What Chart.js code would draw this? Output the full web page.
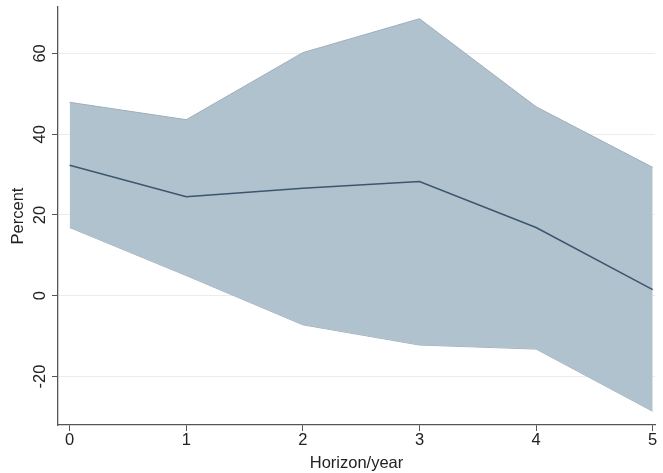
<!DOCTYPE html>
<html>
<head>
<meta charset="utf-8">
<script src="https://cdn.jsdelivr.net/npm/chart.js@4"></script>
<style>
  html, body { margin: 0; padding: 0; background: #fff; }
  #wrap { width: 663px; height: 473px; }
</style>
</head>
<body>
<div id="wrap"><canvas id="myChart1"></canvas></div>
<script>
// horizon (years) and estimates
const horizons = [0, 1, 2, 3, 4, 5];
const estimate = [32.3, 24.5, 26.6, 28.3, 16.9, 1.5];
const upperCI = [47.9, 43.6, 60.2, 68.6, 46.8, 31.8];
const lowerCI = [16.9, 5.0, -7.2, -12.2, -13.2, -28.6];
const yTickValues = [-20, 0, 20, 40, 60];
const xTickValues = [0, 1, 2, 3, 4, 5];

function pts(arr) {
    return horizons.map((h, i) => ({ x: h, y: arr[i] }));
}

const font = { family: "'Liberation Sans', Arial, sans-serif", size: 16.5 };

// Stata style: y tick labels and title run bottom-to-top, centred on the tick
const verticalYLabels = {
    id: 'verticalYLabels',
    afterDraw(chart) {
        const c = chart.ctx;
        const y = chart.scales.y;
        c.save();
        c.fillStyle = '#222';
        c.font = font.size + "px " + font.family;
        c.textAlign = 'center';
        c.textBaseline = 'middle';
        yTickValues.forEach(v => {
            c.save();
            c.translate(40, y.getPixelForValue(v));
            c.rotate(-Math.PI / 2);
            c.fillText(String(v), 0, 0);
            c.restore();
        });
        c.translate(18, (y.top + y.bottom) / 2);
        c.rotate(-Math.PI / 2);
        c.fillText('Percent', 0, 0);
        c.restore();
    }
};

document.addEventListener("DOMContentLoaded", function() {
    const ctx = document.getElementById('myChart1').getContext('2d');

    const data = {
        datasets: [
            {
                label: 'Estimate',
                data: pts(estimate),
                borderColor: '#3b566e',
                borderWidth: 1.5,
                pointRadius: 0,
                fill: false
            },
            {
                label: 'Upper',
                data: pts(upperCI),
                borderColor: '#9eadba',
                borderWidth: 1,
                backgroundColor: '#b1c2cf',
                pointRadius: 0,
                fill: '+1'
            },
            {
                label: 'Lower',
                data: pts(lowerCI),
                borderColor: '#9eadba',
                borderWidth: 1,
                pointRadius: 0,
                fill: false
            }
        ]
    };

    const options = {
        responsive: true,
        maintainAspectRatio: false,
        animation: false,
        layout: { padding: { top: 7, right: 8, left: 0, bottom: 0 } },
        plugins: {
            legend: { display: false },
            tooltip: { enabled: false }
        },
        scales: {
            x: {
                type: 'linear',
                min: -0.1,
                max: 5.02,
                afterBuildTicks: s => { s.ticks = xTickValues.map(v => ({ value: v })); },
                afterFit: s => { s.height = 48; },
                grid: { display: true, color: 'rgba(0,0,0,0)', tickColor: '#555', tickLength: 6 },
                border: { color: '#555', width: 1.3 },
                ticks: { color: '#222', font: font, padding: 0, maxRotation: 0, callback: v => v },
                title: { display: true, text: 'Horizon/year', color: '#222', font: font, padding: { top: 0, bottom: 0 } }
            },
            y: {
                min: -32,
                max: 71.5,
                afterBuildTicks: s => { s.ticks = yTickValues.map(v => ({ value: v })); },
                afterFit: s => { s.width = 58; },
                grid: { color: '#ececec', lineWidth: 1, tickColor: '#555', tickLength: 6 },
                border: { color: '#555', width: 1.3 },
                ticks: { display: false }
            }
        }
    };

    new Chart(ctx, { type: 'line', data: data, options: options, plugins: [verticalYLabels] });
});
</script>
</body>
</html>
